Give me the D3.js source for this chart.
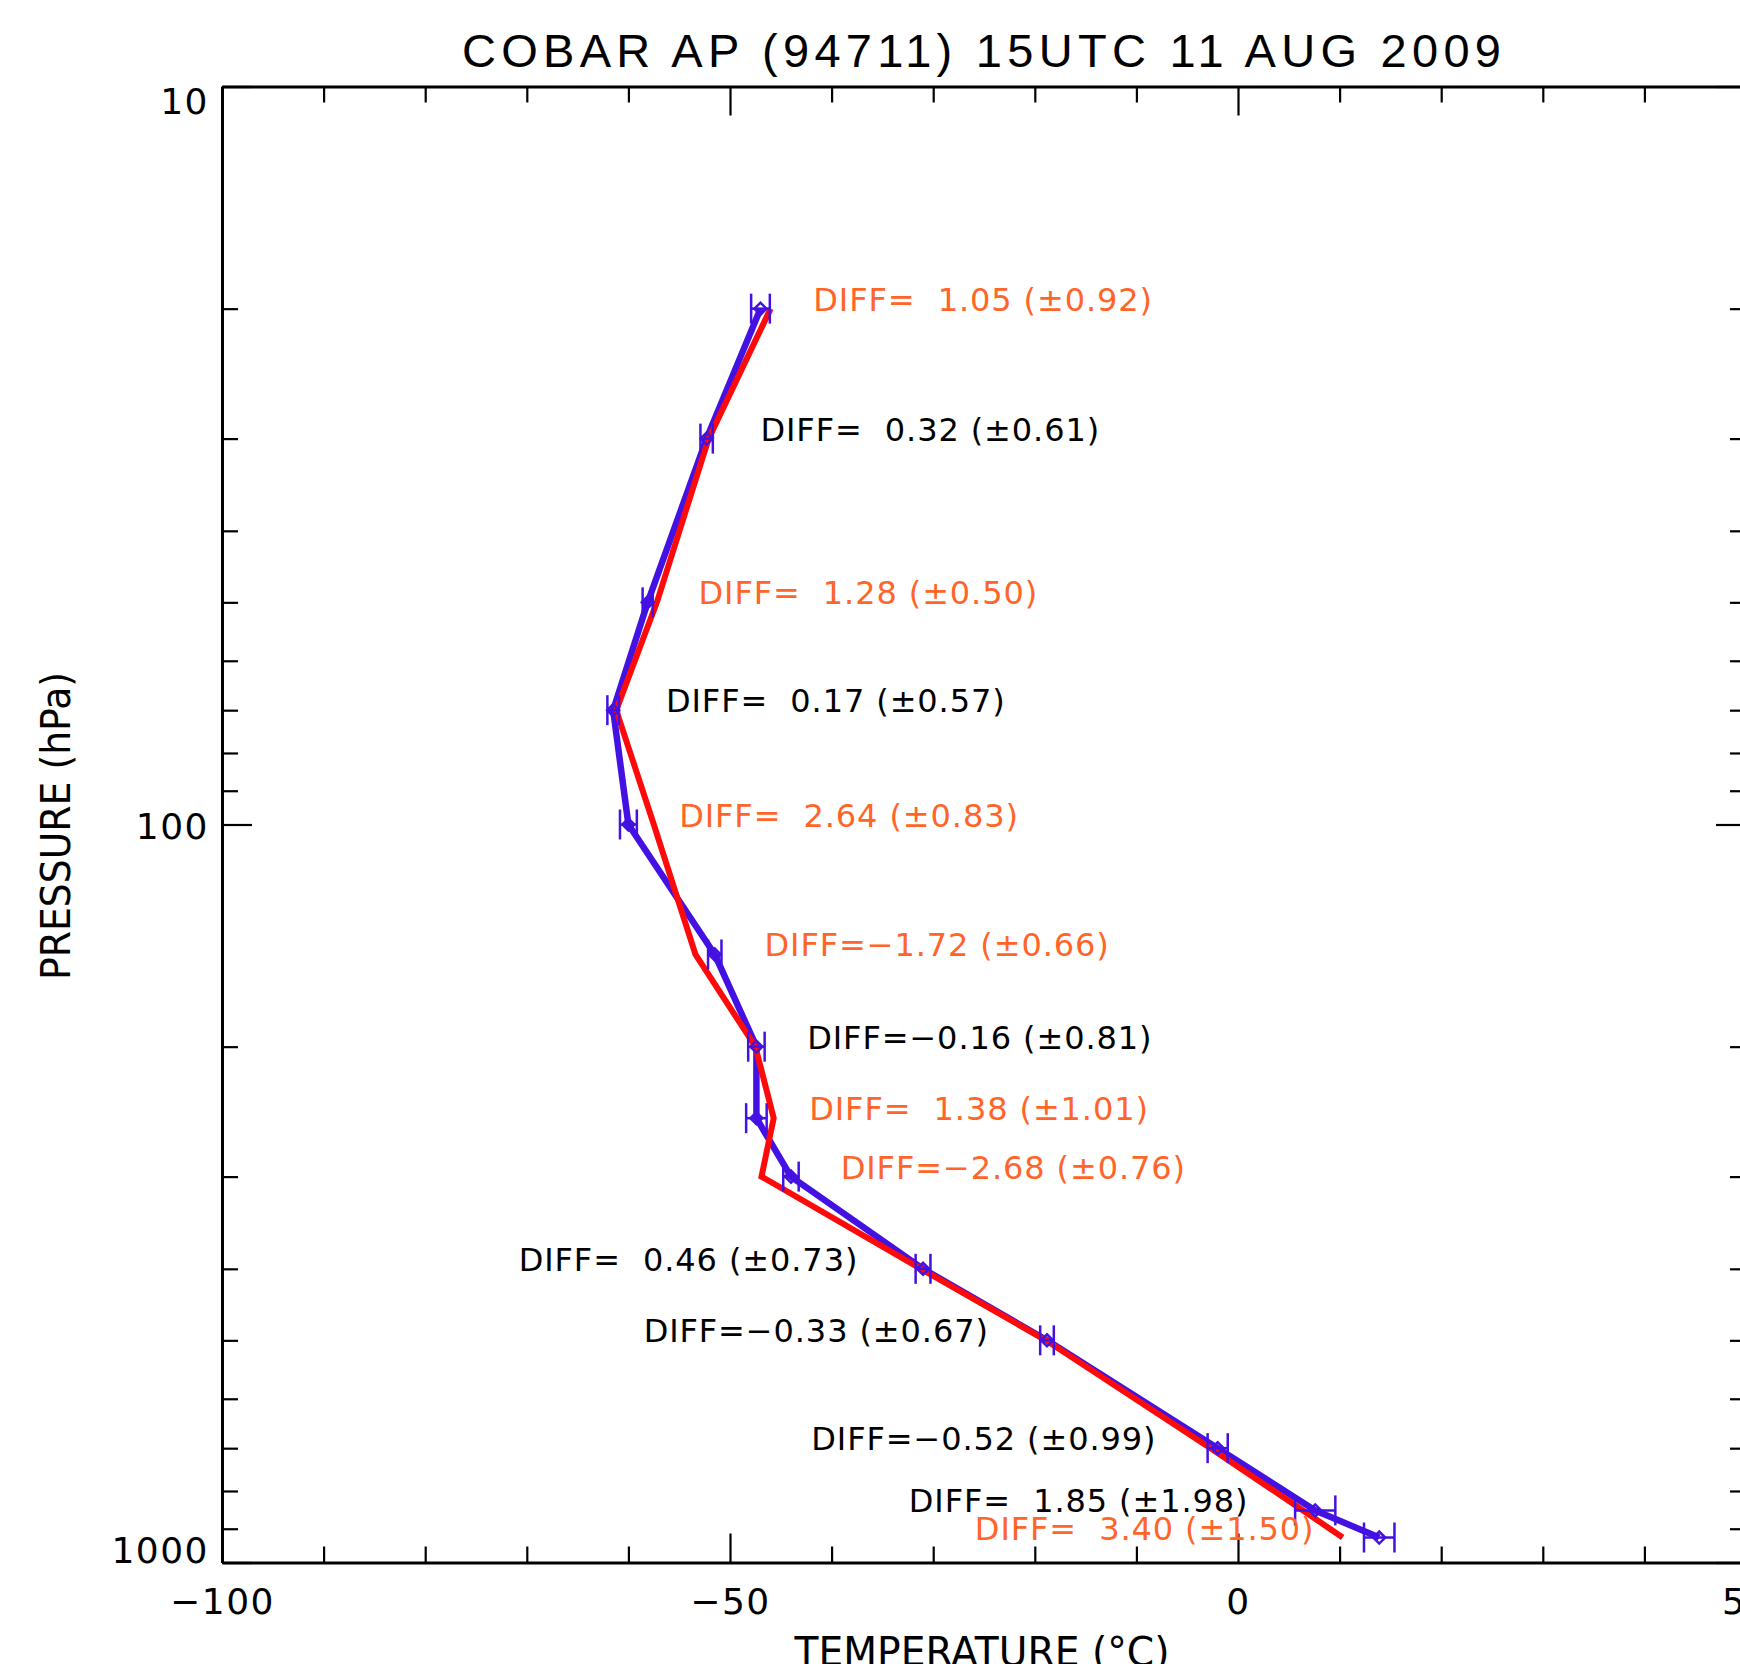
<!DOCTYPE html>
<head>
  <meta charset="utf-8">
  <script src="https://d3js.org/d3.v7.min.js"></script>
  <style>
    body { margin: 0; background: #fff; }
    .axis .domain { stroke: black; stroke-width: 3px; }
    .axis .tick line { stroke: black; stroke-width: 2.2px; }
    .axis .tick text {
      font-family: "DejaVu Sans", sans-serif;
      font-size: 36px;
      letter-spacing: 1.5px;
      fill: black;
    }
    .diff {
      font-family: "DejaVu Sans", sans-serif;
      font-size: 32px;
      letter-spacing: 0.9px;
      white-space: pre;
    }
  </style>
</head>

<body>
  <script>

    // pressure levels (hPa) of the sounding
    var levels = [20, 30, 50, 70, 100, 150, 200, 250, 300, 400, 500, 700, 850, 925];

    // blue profile (with error bars) and red profile, deg C
    var blueTemp = [-47.0, -52.3, -58.1, -61.5, -60.0, -51.5, -47.4, -47.4, -44.0, -31.0, -18.8, -2.0, 7.6, 13.9];
    var redTemp  = [-46.0, -52.1, -57.2, -61.2, -57.5, -53.4, -47.5, -45.7, -46.9, -31.2, -18.9, -2.7, 6.4, 10.3];

    // DIFF annotation values and their (±) errors
    var diffValues = [1.05, 0.32, 1.28, 0.17, 2.64, -1.72, -0.16, 1.38, -2.68, 0.46, -0.33, -0.52, 1.85, 3.40];
    var diffErrors = [0.92, 0.61, 0.50, 0.57, 0.83, 0.66, 0.81, 1.01, 0.76, 0.73, 0.67, 0.99, 1.98, 1.50];

    // temperature where each DIFF label starts
    var labelTemp = [-41.8, -47.0, -53.1, -56.3, -55.0, -46.6, -42.4, -42.2, -39.1, -70.8, -58.5, -42.0, -32.4, -25.9];

    // axes
    var tempTicks = d3.range(-100, 51, 10);
    var tempLabels = [-100, -50, 0, 50];
    var pressureTicks = [10, 20, 30, 40, 50, 60, 70, 80, 90, 100, 200, 300, 400, 500, 600, 700, 800, 900, 1000];
    var pressureLabels = [10, 100, 1000];

    var blue = "#4312e2";
    var red = "#ff0a0a";
    var orange = "#ff6428";

    var svg = d3.select("body").append("svg")
      .attr("width", 1740)
      .attr("height", 1664)
      .style("display", "block")
      .style("background", "#fff");

    var plotLeft = 222, plotRight = 1746, plotTop = 86.5, plotBottom = 1562.5;

    var x = d3.scaleLinear()
        .domain([-100, 50])
        .range([plotLeft, plotRight]);

    var y = d3.scaleLog()
        .domain([10, 1000])
        .range([plotTop, plotBottom]);

    var fmt = d3.format("d");

    // bottom axis
    var gB = svg.append("g")
      .attr("class", "axis")
      .attr("transform", "translate(0," + plotBottom + ")")
      .call(d3.axisBottom(x).tickValues(tempTicks).tickSizeInner(-16).tickSizeOuter(0)
        .tickFormat(function(d) { return tempLabels.indexOf(d) >= 0 ? fmt(d) : ""; }));
    gB.selectAll(".tick line").attr("y2", function(d) { return tempLabels.indexOf(d) >= 0 ? -29 : -16; });
    gB.selectAll(".tick text").attr("y", 26).attr("dy", "0.71em");

    // top axis
    var gT = svg.append("g")
      .attr("class", "axis")
      .attr("transform", "translate(0," + plotTop + ")")
      .call(d3.axisTop(x).tickValues(tempTicks).tickSizeInner(-16).tickSizeOuter(0).tickFormat(""));
    gT.selectAll(".tick line").attr("y2", function(d) { return tempLabels.indexOf(d) >= 0 ? 29 : 16; });

    // left axis
    var gL = svg.append("g")
      .attr("class", "axis")
      .attr("transform", "translate(" + plotLeft + ",0)")
      .call(d3.axisLeft(y).tickValues(pressureTicks).tickSizeInner(-16).tickSizeOuter(0)
        .tickFormat(function(d) { return pressureLabels.indexOf(d) >= 0 ? fmt(d) : ""; }));
    gL.selectAll(".tick line").attr("x2", function(d) { return pressureLabels.indexOf(d) >= 0 ? 30 : 16; });
    gL.selectAll(".tick text")
      .attr("x", -13)
      .attr("dy", 0)
      .attr("y", function(d) {
        var base = Math.min(Math.max(y(d) + 14, plotTop + 27), plotBottom);
        return base - y(d);
      });

    // right axis
    var gR = svg.append("g")
      .attr("class", "axis")
      .attr("transform", "translate(" + plotRight + ",0)")
      .call(d3.axisRight(y).tickValues(pressureTicks).tickSizeInner(-16).tickSizeOuter(0).tickFormat(""));
    gR.selectAll(".tick line").attr("x2", function(d) { return pressureLabels.indexOf(d) >= 0 ? -30 : -16; });

    var blueData = levels.map(function(p, i) { return {p: p, t: blueTemp[i], err: diffErrors[i]}; });
    var redData = levels.map(function(p, i) { return {p: p, t: redTemp[i]}; });

    var line = d3.line()
        .x(function(d) { return x(d.t); })
        .y(function(d) { return y(d.p); });

    svg.append("path").datum(blueData)
      .attr("d", line)
      .attr("fill", "none")
      .attr("stroke", blue)
      .attr("stroke-width", 6.5)
      .attr("stroke-linejoin", "round");

    svg.append("path").datum(redData)
      .attr("d", line)
      .attr("fill", "none")
      .attr("stroke", red)
      .attr("stroke-width", 6)
      .attr("stroke-linejoin", "miter");

    // error bars and diamonds on the blue profile
    var eb = svg.selectAll(".errbar").data(blueData).enter().append("g")
      .attr("class", "errbar")
      .attr("stroke", blue)
      .attr("stroke-width", 2.5)
      .attr("fill", "none");

    eb.append("line")
      .attr("x1", function(d) { return x(d.t - d.err); })
      .attr("x2", function(d) { return x(d.t + d.err); })
      .attr("y1", function(d) { return y(d.p); })
      .attr("y2", function(d) { return y(d.p); });

    eb.append("line")
      .attr("x1", function(d) { return x(d.t - d.err); })
      .attr("x2", function(d) { return x(d.t - d.err); })
      .attr("y1", function(d) { return y(d.p) - 15; })
      .attr("y2", function(d) { return y(d.p) + 15; });

    eb.append("line")
      .attr("x1", function(d) { return x(d.t + d.err); })
      .attr("x2", function(d) { return x(d.t + d.err); })
      .attr("y1", function(d) { return y(d.p) - 15; })
      .attr("y2", function(d) { return y(d.p) + 15; });

    eb.append("path")
      .attr("d", function(d) {
        var cx = x(d.t), cy = y(d.p);
        return "M" + (cx - 6) + "," + cy + "L" + cx + "," + (cy - 6) + "L" + (cx + 6) + "," + cy + "L" + cx + "," + (cy + 6) + "Z";
      });

    // DIFF annotations
    svg.selectAll(".diff").data(levels).enter().append("text")
      .attr("class", "diff")
      .attr("x", function(d, i) { return x(labelTemp[i]); })
      .attr("y", function(d) { return y(d) + 2; })
      .style("fill", function(d, i) { return Math.abs(diffValues[i]) > diffErrors[i] ? orange : "black"; })
      .text(function(d, i) {
        var v = diffValues[i];
        return "DIFF=" + (v < 0 ? "\u2212" : "  ") + Math.abs(v).toFixed(2) + " (\u00b1" + diffErrors[i].toFixed(2) + ")";
      });

    // title and axis titles
    svg.append("text")
      .text("COBAR AP (94711) 15UTC 11 AUG 2009")
      .attr("x", 981.5)
      .attr("y", 67)
      .attr("text-anchor", "middle")
      .attr("textLength", 1039)
      .attr("lengthAdjust", "spacing")
      .style("font-family", "'Liberation Sans Narrow', 'Liberation Sans', sans-serif")
      .style("font-size", "47px")
      .style("fill", "black");

    svg.append("text")
      .text("TEMPERATURE (\u00b0C)")
      .attr("x", 982)
      .attr("y", 1666)
      .attr("text-anchor", "middle")
      .attr("textLength", 375)
      .attr("lengthAdjust", "spacingAndGlyphs")
      .style("font-family", "'DejaVu Sans', sans-serif")
      .style("font-size", "40px")
      .style("fill", "black");

    svg.append("text")
      .text("PRESSURE (hPa)")
      .attr("transform", "translate(70,826) rotate(-90)")
      .attr("text-anchor", "middle")
      .attr("textLength", 308)
      .attr("lengthAdjust", "spacingAndGlyphs")
      .style("font-family", "'DejaVu Sans', sans-serif")
      .style("font-size", "40px")
      .style("fill", "black");

  </script>
</body>
